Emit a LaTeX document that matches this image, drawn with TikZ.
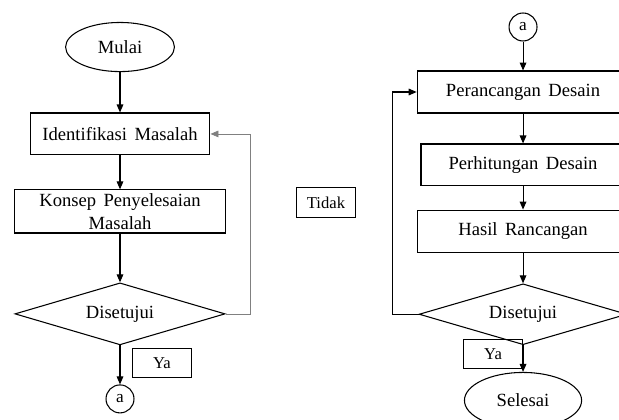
\documentclass[tikz,border=0pt]{standalone}
\usepackage{fontspec}
\setmainfont{Liberation Serif}[WordSpace=1.6]
\usetikzlibrary{shapes.geometric,arrows.meta}

\begin{document}
\begin{tikzpicture}[
            node distance=2cm,
            process/.style={rectangle, draw, line width=0.8pt, minimum width=5.6cm, minimum height=1.11cm, text centered, font=\fontsize{14}{15}\selectfont},
            terminal/.style={ellipse, draw, line width=0.8pt, minimum width=2.88cm, minimum height=1.3cm, font=\fontsize{14}{15}\selectfont},
            decision/.style={diamond, draw, line width=0.8pt, aspect=3.4, inner sep=0pt, minimum width=5.56cm, minimum height=1.64cm, font=\fontsize{14}{15}\selectfont},
            connector/.style={circle, draw, line width=0.8pt, minimum size=0.74cm, inner sep=0pt, font=\fontsize{13}{14}\selectfont},
            answer/.style={rectangle, draw, line width=0.8pt, minimum width=1.56cm, minimum height=0.79cm, font=\fontsize{12.5}{14}\selectfont},
            arrow/.style={-{Triangle[width=5pt,length=6pt]}, line width=0.8pt},
            loopback/.style={-{Triangle[width=5pt,length=6pt]}, line width=0.5pt, draw=gray}
            ]
            \useasboundingbox (0,0) rectangle (16.377,-11.086);
            
            % Left column
            \node[terminal] (mulai) at (3.175,-1.244) {Mulai};
            \node[process, minimum width=4.76cm, below of=mulai, yshift=-0.3cm] (identifikasi) {Identifikasi Masalah};
            \node[process, minimum width=5.58cm, minimum height=1.14cm, inner sep=0pt, align=center, font=\fontsize{14}{17}\selectfont, below of=identifikasi, yshift=-0.05cm] (konsep) {Konsep Penyelesaian\\Masalah};
            \node[decision, below of=konsep, yshift=-0.71cm] (setuju1) {Disetujui};
            \node[connector, below of=setuju1, yshift=-0.25cm] (a1) {a};
            
            % Right column
            \node[connector] (a2) at (13.838,-0.714) {a};
            \node[process, below of=a2, yshift=0.28cm] (perancangan) {Perancangan Desain};
            \node[process, minimum width=5.4cm, below of=perancangan, yshift=0.07cm] (perhitungan) {Perhitungan Desain};
            \node[process, below of=perhitungan, yshift=0.25cm] (hasil) {Hasil Rancangan};
            \node[decision, minimum width=5.5cm, minimum height=1.61cm, below of=hasil, yshift=-0.2cm] (setuju2) {Disetujui};
            \node[terminal, minimum width=3.1cm, minimum height=1.48cm, below of=setuju2, yshift=-0.28cm] (selesai) {Selesai};
            
            % Answer labels
            \node[answer] (ya1) at (4.286,-9.604) {Ya};
            \node[answer] (ya2) at (13.044,-9.366) {Ya};
            \node[answer] (tidak) at (8.625,-5.358) {Tidak};
            
            % Arrows
            \draw[arrow] (mulai) -- (identifikasi);
            \draw[arrow] (identifikasi) -- (konsep);
            \draw[arrow] (konsep) -- (setuju1);
            \draw[arrow] (setuju1) -- (a1);
            \draw[loopback] (setuju1.east) -- ++(0.66,0) |- (identifikasi.east);
            \draw[arrow] (a2) -- (perancangan);
            \draw[arrow] (perancangan) -- (perhitungan);
            \draw[arrow] (perhitungan) -- (hasil);
            \draw[arrow] (hasil) -- (setuju2);
            \draw[arrow] (setuju2) -- (selesai);
            \draw[arrow] (setuju2.west) -- ++(-0.69,0) |- (perancangan.west);
            
        \end{tikzpicture}
\end{document}
